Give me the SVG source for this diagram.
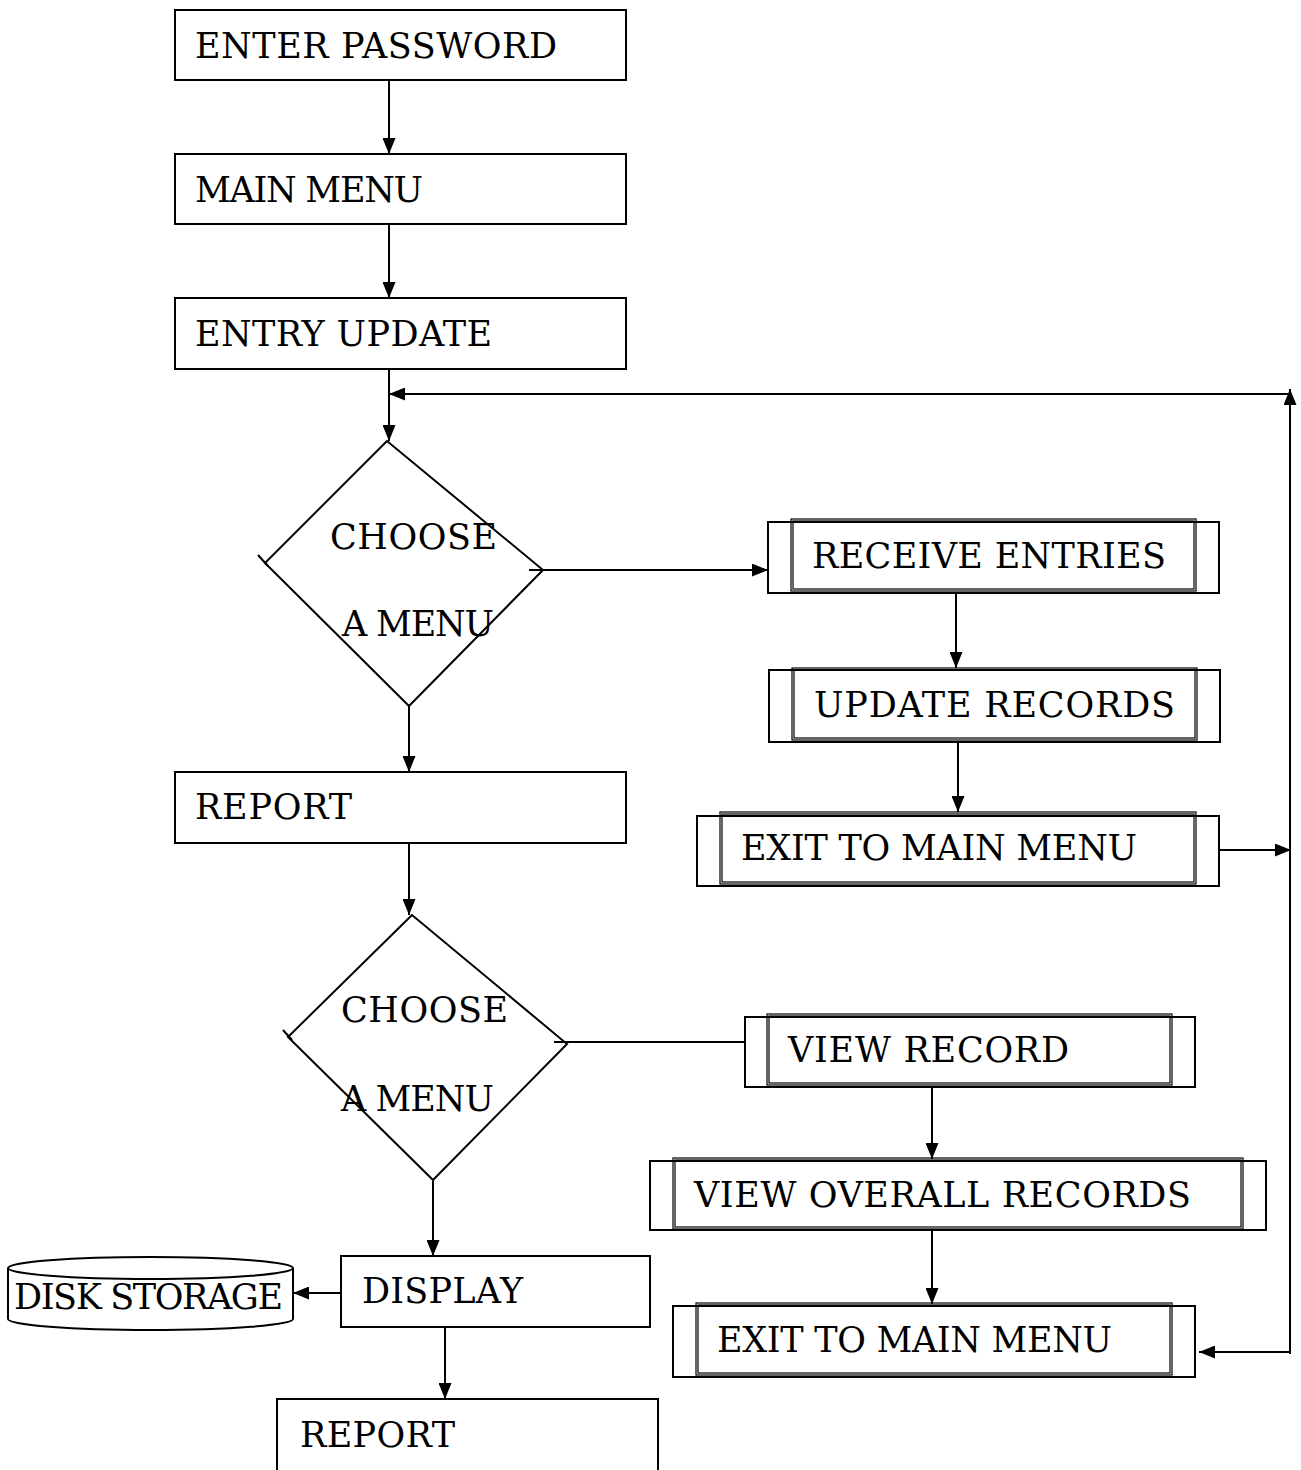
<svg xmlns="http://www.w3.org/2000/svg" width="1301" height="1470" viewBox="0 0 1301 1470">
<style>
.box{fill:#fff;stroke:#000;stroke-width:2}
.in{fill:none;stroke:#000;stroke-width:1.2}
.ln{fill:none;stroke:#000;stroke-width:2}
.t{font-family:"DejaVu Serif",serif;font-size:35px;fill:#000}
</style>
<defs>
<marker id="ah" viewBox="0 0 16 13" refX="16" refY="6.5" markerWidth="16" markerHeight="13" markerUnits="userSpaceOnUse" orient="auto">
<path d="M0,0 L16,6.5 L0,13 Z" fill="#000"/>
</marker>
</defs>
<rect width="1301" height="1470" fill="#fff"/>
<g id="connectors">
<line class="ln" x1="389" y1="80" x2="389" y2="154" marker-end="url(#ah)"/>
<line class="ln" x1="389" y1="224" x2="389" y2="298" marker-end="url(#ah)"/>
<line class="ln" x1="389" y1="369" x2="389" y2="441" marker-end="url(#ah)"/>
<line class="ln" x1="1290" y1="394" x2="389" y2="394" marker-end="url(#ah)"/>
<line class="ln" x1="1290" y1="1354" x2="1290" y2="389" marker-end="url(#ah)"/>
<line class="ln" x1="541" y1="570" x2="768" y2="570" marker-end="url(#ah)"/>
<line class="ln" x1="409" y1="706" x2="409" y2="772" marker-end="url(#ah)"/>
<line class="ln" x1="409" y1="843" x2="409" y2="915" marker-end="url(#ah)"/>
<line class="ln" x1="956" y1="594" x2="956" y2="668" marker-end="url(#ah)"/>
<line class="ln" x1="958" y1="742" x2="958" y2="812" marker-end="url(#ah)"/>
<line class="ln" x1="1219" y1="850" x2="1291" y2="850" marker-end="url(#ah)"/>
<line class="ln" x1="567" y1="1042" x2="745" y2="1042"/>
<line class="ln" x1="433" y1="1181" x2="433" y2="1256" marker-end="url(#ah)"/>
<line class="ln" x1="932" y1="1087" x2="932" y2="1159" marker-end="url(#ah)"/>
<line class="ln" x1="932" y1="1230" x2="932" y2="1304" marker-end="url(#ah)"/>
<line class="ln" x1="1290" y1="1352" x2="1199" y2="1352" marker-end="url(#ah)"/>
<line class="ln" x1="341" y1="1293" x2="293" y2="1293" marker-end="url(#ah)"/>
<line class="ln" x1="445" y1="1327" x2="445" y2="1399" marker-end="url(#ah)"/>
</g>
<g id="enter-password">
<rect class="box" x="175" y="10" width="451" height="70"/>
<text class="t" x="195" y="58" textLength="362">ENTER PASSWORD</text>
</g>
<g id="main-menu">
<rect class="box" x="175" y="154" width="451" height="70"/>
<text class="t" x="195" y="202" textLength="228">MAIN MENU</text>
</g>
<g id="entry-update">
<rect class="box" x="175" y="298" width="451" height="71"/>
<text class="t" x="195" y="346" textLength="297">ENTRY UPDATE</text>
</g>
<g id="choose-menu-1">
<path class="ln" d="M387,441 L265,563 L409,706 L543,570 Z"/>
<line class="ln" x1="258" y1="555" x2="268" y2="566"/>
<line class="ln" x1="529" y1="570" x2="543" y2="570"/>
<text class="t" x="330" y="549" textLength="167">CHOOSE</text>
<text class="t" x="342" y="636" textLength="152">A MENU</text>
</g>
<g id="report-1">
<rect class="box" x="175" y="772" width="451" height="71"/>
<text class="t" x="195" y="819" textLength="157">REPORT</text>
</g>
<g id="choose-menu-2">
<path class="ln" d="M412,915 L288,1037 L433,1180 L567,1044 Z"/>
<line class="ln" x1="283" y1="1030" x2="292" y2="1040"/>
<line class="ln" x1="554" y1="1042" x2="569" y2="1042"/>
<text class="t" x="341" y="1022" textLength="167">CHOOSE</text>
<text class="t" x="341" y="1111" textLength="153">A MENU</text>
</g>
<g id="display">
<rect class="box" x="341" y="1256" width="309" height="71"/>
<text class="t" x="362" y="1303" textLength="161">DISPLAY</text>
</g>
<g id="disk-storage">
<path class="box" d="M8,1268 L8,1319 A142.5,11 0 0 0 293,1319 L293,1268"/>
<ellipse class="box" cx="150.5" cy="1268" rx="142.5" ry="11"/>
<text class="t" x="14" y="1309" textLength="269">DISK STORAGE</text>
</g>
<g id="report-2">
<rect class="box" x="277" y="1399" width="381" height="80"/>
<text class="t" x="300" y="1447" textLength="155">REPORT</text>
</g>
<g id="receive-entries">
<rect class="box" x="768" y="522" width="451" height="71"/>
<rect class="in" x="791" y="519" width="405" height="72"/>
<rect class="in" x="793" y="521" width="401" height="68"/>
<text class="t" x="812" y="568" textLength="354">RECEIVE ENTRIES</text>
</g>
<g id="update-records">
<rect class="box" x="769" y="670" width="451" height="72"/>
<rect class="in" x="792" y="668" width="405" height="72"/>
<rect class="in" x="794" y="670" width="401" height="68"/>
<text class="t" x="814" y="717" textLength="361">UPDATE RECORDS</text>
</g>
<g id="exit-main-menu-1">
<rect class="box" x="697" y="816" width="522" height="70"/>
<rect class="in" x="720" y="812" width="476" height="72"/>
<rect class="in" x="722" y="814" width="472" height="68"/>
<text class="t" x="741" y="860" textLength="396">EXIT TO MAIN MENU</text>
</g>
<g id="view-record">
<rect class="box" x="745" y="1017" width="450" height="70"/>
<rect class="in" x="767" y="1014" width="405" height="71"/>
<rect class="in" x="769" y="1016" width="401" height="67"/>
<text class="t" x="788" y="1062" textLength="281">VIEW RECORD</text>
</g>
<g id="view-overall-records">
<rect class="box" x="650" y="1161" width="616" height="69"/>
<rect class="in" x="673" y="1158" width="570" height="71"/>
<rect class="in" x="675" y="1160" width="566" height="67"/>
<text class="t" x="694" y="1207" textLength="497">VIEW OVERALL RECORDS</text>
</g>
<g id="exit-main-menu-2">
<rect class="box" x="673" y="1306" width="522" height="71"/>
<rect class="in" x="696" y="1303" width="476" height="72"/>
<rect class="in" x="698" y="1305" width="472" height="68"/>
<text class="t" x="717" y="1352" textLength="395">EXIT TO MAIN MENU</text>
</g>
</svg>
